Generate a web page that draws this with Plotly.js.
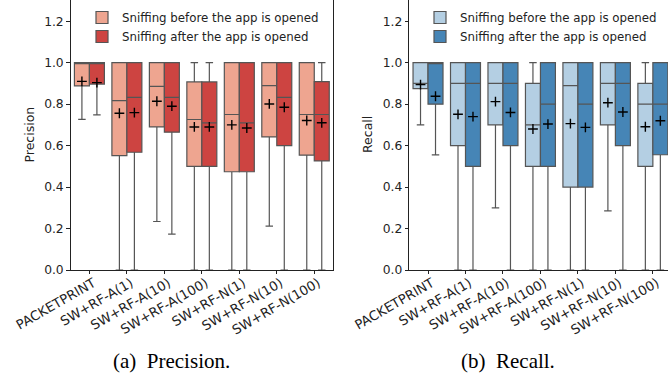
<!DOCTYPE html>
<html>
<head>
<meta charset="utf-8">
<script src="https://cdn.plot.ly/plotly-3.0.1.min.js"></script>
<style>html,body{margin:0;padding:0;background:#fff;}#chart{width:668px;height:379px;}</style>
</head>
<body>
<div id="chart"></div>
<script>
const categories = ['PACKETPRINT','SW+RF-A(1)','SW+RF-A(10)','SW+RF-A(100)','SW+RF-N(1)','SW+RF-N(10)','SW+RF-N(100)'];
const seriesNames = ['Sniffing before the app is opened','Sniffing after the app is opened'];

// Precision - before
const precBeforeQ1     = [0.888, 0.552, 0.690, 0.500, 0.474, 0.642, 0.554];
const precBeforeMedian = [1.000, 0.817, 0.886, 0.726, 0.750, 0.889, 0.750];
const precBeforeQ3     = [1.000, 1.000, 1.000, 0.907, 1.000, 1.000, 1.000];
const precBeforeLow    = [0.727, 0.000, 0.234, 0.000, 0.000, 0.212, 0.000];
const precBeforeHigh   = [1.000, 1.000, 1.000, 1.000, 1.000, 1.000, 1.000];
const precBeforeMean   = [0.910, 0.756, 0.814, 0.690, 0.700, 0.801, 0.721];
// Precision - after
const precAfterQ1      = [0.897, 0.568, 0.665, 0.500, 0.474, 0.600, 0.526];
const precAfterMedian  = [1.000, 0.833, 0.833, 0.710, 0.710, 0.833, 0.750];
const precAfterQ3      = [1.000, 1.000, 1.000, 0.907, 1.000, 1.000, 0.909];
const precAfterLow     = [0.748, 0.000, 0.173, 0.000, 0.000, 0.000, 0.000];
const precAfterHigh    = [1.000, 1.000, 1.000, 1.000, 1.000, 1.000, 1.000];
const precAfterMean    = [0.904, 0.759, 0.790, 0.690, 0.685, 0.785, 0.710];
// Recall - before
const recBeforeQ1      = [0.875, 0.600, 0.700, 0.500, 0.400, 0.700, 0.500];
const recBeforeMedian  = [0.900, 0.900, 0.900, 0.700, 0.889, 0.900, 0.800];
const recBeforeQ3      = [1.000, 1.000, 1.000, 0.900, 1.000, 1.000, 0.900];
const recBeforeLow     = [0.700, 0.000, 0.300, 0.000, 0.000, 0.285, 0.000];
const recBeforeHigh    = [1.000, 1.000, 1.000, 1.000, 1.000, 1.000, 1.000];
const recBeforeMean    = [0.894, 0.751, 0.812, 0.680, 0.706, 0.807, 0.691];
// Recall - after
const recAfterQ1       = [0.800, 0.500, 0.600, 0.500, 0.400, 0.600, 0.556];
const recAfterMedian   = [1.000, 0.900, 0.900, 0.800, 0.800, 0.900, 0.800];
const recAfterQ3       = [1.000, 1.000, 1.000, 1.000, 1.000, 1.000, 1.000];
const recAfterLow      = [0.555, 0.000, 0.000, 0.000, 0.000, 0.000, 0.000];
const recAfterHigh     = [1.000, 1.000, 1.000, 1.000, 1.000, 1.000, 1.000];
const recAfterMean     = [0.838, 0.740, 0.760, 0.704, 0.688, 0.762, 0.720];

const yTickVals = [0, 0.2, 0.4, 0.6, 0.8, 1.0, 1.2];
const yTickText = ['0.0','0.2','0.4','0.6','0.8','1.0','1.2'];

const FONT = 'DejaVu Sans, sans-serif';
const TXT = '#222';
const EDGE = '#555555';
const idx = categories.map((_, i) => i);
const hueOffsets = [-0.2, 0.2];
const boxWidth = 0.4;

function boxTrace(name, q1, med, q3, lo, hi, color, hue, xa, ya, legend) {
  return {
    type: 'box', name: name,
    x: idx.map(i => i + hueOffsets[hue]),
    q1: q1, median: med, q3: q3, lowerfence: lo, upperfence: hi,
    width: boxWidth, whiskerwidth: 0.5, boxpoints: false,
    fillcolor: color, line: {color: EDGE, width: 1.2},
    xaxis: xa, yaxis: ya, legend: legend, showlegend: true, hoverinfo: 'skip'
  };
}
function meanTrace(mean, hue, xa, ya) {
  return {
    type: 'scatter', mode: 'markers',
    x: idx.map(i => i + hueOffsets[hue]), y: mean,
    marker: {symbol: 'cross-thin', size: 7, color: '#000', line: {color: '#000', width: 1.4}},
    xaxis: xa, yaxis: ya, showlegend: false, hoverinfo: 'skip'
  };
}

const redLight = 'rgb(238,165,144)', redDark = 'rgb(205,68,65)';
const blueLight = 'rgb(180,207,227)', blueDark = 'rgb(70,133,182)';

const data = [
  boxTrace(seriesNames[0], precBeforeQ1, precBeforeMedian, precBeforeQ3, precBeforeLow, precBeforeHigh, redLight, 0, 'x', 'y', 'legend'),
  boxTrace(seriesNames[1], precAfterQ1, precAfterMedian, precAfterQ3, precAfterLow, precAfterHigh, redDark, 1, 'x', 'y', 'legend'),
  boxTrace(seriesNames[0], recBeforeQ1, recBeforeMedian, recBeforeQ3, recBeforeLow, recBeforeHigh, blueLight, 0, 'x2', 'y2', 'legend2'),
  boxTrace(seriesNames[1], recAfterQ1, recAfterMedian, recAfterQ3, recAfterLow, recAfterHigh, blueDark, 1, 'x2', 'y2', 'legend2'),
  meanTrace(precBeforeMean, 0, 'x', 'y'),
  meanTrace(precAfterMean, 1, 'x', 'y'),
  meanTrace(recBeforeMean, 0, 'x2', 'y2'),
  meanTrace(recAfterMean, 1, 'x2', 'y2')
];

function xAxis(domain, range, anchor) {
  return {
    domain: domain, range: range, anchor: anchor,
    tickmode: 'array', tickvals: idx, ticktext: categories, tickangle: -30,
    ticks: 'outside', ticklen: 3.5, tickwidth: 1, tickcolor: TXT,
    ticklabelshift: 4, ticklabelstandoff: -4,
    showline: true, linecolor: TXT, linewidth: 1, mirror: true,
    showgrid: false, zeroline: false,
    tickfont: {family: FONT, size: 13.2, color: TXT}
  };
}
function yAxis(domain, anchor, mirror) {
  return {
    domain: domain, range: [0, 1.3], anchor: anchor,
    tickmode: 'array', tickvals: yTickVals, ticktext: yTickText,
    ticks: 'outside', ticklen: 3.5, tickwidth: 1, tickcolor: TXT,
    showline: true, linecolor: TXT, linewidth: 1, mirror: mirror,
    showgrid: false, zeroline: false,
    tickfont: {family: FONT, size: 12.3, color: TXT}
  };
}

const legendCommon = {
  bgcolor: 'rgba(0,0,0,0)', borderwidth: 0,
  font: {family: FONT, size: 11.8, color: TXT},
  xanchor: 'left', yanchor: 'top', tracegroupgap: 0, itemclick: false
};

const capFont = {family: 'Liberation Serif, Times New Roman, serif', size: 21, color: '#000'};
const titleFont = {family: FONT, size: 12.5, color: TXT};

const layout = {
  width: 668, height: 379,
  margin: {l: 0, r: 0, t: 0, b: 0},
  paper_bgcolor: '#fff', plot_bgcolor: '#fff',
  showlegend: true,
  xaxis: xAxis([0.1058, 0.4985], [-0.5, 6.5], 'y'),
  yaxis: yAxis([0.2876, 0.9987], 'x', true),
  xaxis2: xAxis([0.6127, 1.0], [-0.5, 6.404], 'y2'),
  yaxis2: yAxis([0.2876, 0.9987], 'x2', false),
  legend: Object.assign({}, legendCommon, {x: 82/668, y: 1 - 3/379}),
  legend2: Object.assign({}, legendCommon, {x: 420/668, y: 1 - 3/379}),
  annotations: [
    {text: 'Precision', xref: 'paper', yref: 'paper', x: 28.5/668, y: 1 - 135/379,
     xanchor: 'center', yanchor: 'middle', textangle: -90, showarrow: false, font: titleFont},
    {text: 'Recall', xref: 'paper', yref: 'paper', x: 367/668, y: 1 - 135/379,
     xanchor: 'center', yanchor: 'middle', textangle: -90, showarrow: false, font: titleFont},
    {text: '(a)\u2002Precision.', xref: 'paper', yref: 'paper', x: 171/668, y: 1 - 361/379,
     xanchor: 'center', yanchor: 'middle', showarrow: false, font: capFont},
    {text: '(b)\u2002Recall.', xref: 'paper', yref: 'paper', x: 508/668, y: 1 - 361/379,
     xanchor: 'center', yanchor: 'middle', showarrow: false, font: capFont}
  ]
};

Plotly.newPlot('chart', data, layout, {staticPlot: true, displayModeBar: false});
</script>
</body>
</html>
